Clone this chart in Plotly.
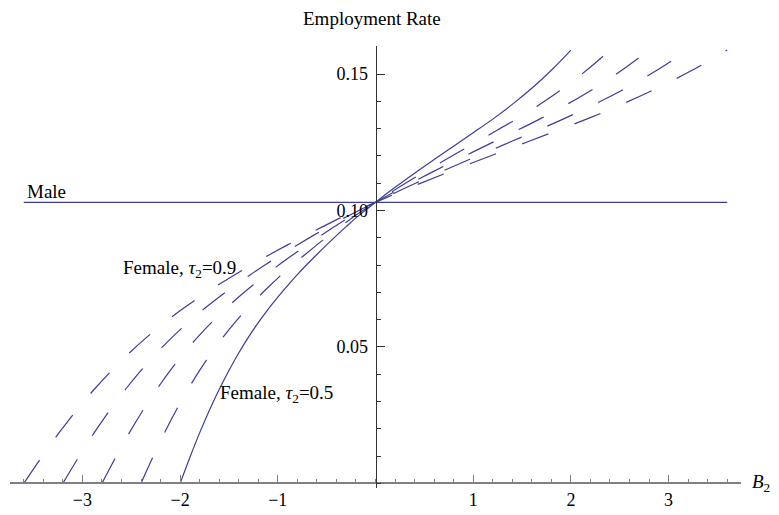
import plotly.graph_objects as go

rate_female = [0.0, 0.0095, 0.0185, 0.0268, 0.0344, 0.0414, 0.0478, 0.0536, 0.0589,
               0.0638, 0.0683, 0.0725, 0.0765, 0.0803, 0.0839, 0.0874, 0.0908, 0.0941,
               0.0973, 0.1002, 0.1030, 0.1085, 0.1137, 0.1187, 0.1236, 0.1285, 0.1335,
               0.1389, 0.1448, 0.1514, 0.1588]

# B2 where each female curve reaches those rates
b2_tau05 = [-2.0, -1.9, -1.8, -1.7, -1.6, -1.5, -1.4, -1.3, -1.2, -1.1, -1.0, -0.9, -0.8,
            -0.7, -0.6, -0.5, -0.4, -0.3, -0.2, -0.1, 0.0, 0.2, 0.4, 0.6, 0.8, 1.0, 1.2,
            1.4, 1.6, 1.8, 2.0]
b2_tau06 = [-2.4, -2.28, -2.16, -2.04, -1.92, -1.8, -1.68, -1.56, -1.44, -1.32, -1.2,
            -1.08, -0.96, -0.84, -0.72, -0.6, -0.48, -0.36, -0.24, -0.12, 0.0, 0.24,
            0.48, 0.72, 0.96, 1.2, 1.44, 1.68, 1.92, 2.16, 2.4]
b2_tau07 = [-2.8, -2.66, -2.52, -2.38, -2.24, -2.1, -1.96, -1.82, -1.68, -1.54, -1.4,
            -1.26, -1.12, -0.98, -0.84, -0.7, -0.56, -0.42, -0.28, -0.14, 0.0, 0.28,
            0.56, 0.84, 1.12, 1.4, 1.68, 1.96, 2.24, 2.52, 2.8]
b2_tau08 = [-3.2, -3.04, -2.88, -2.72, -2.56, -2.4, -2.24, -2.08, -1.92, -1.76, -1.6,
            -1.44, -1.28, -1.12, -0.96, -0.8, -0.64, -0.48, -0.32, -0.16, 0.0, 0.32,
            0.64, 0.96, 1.28, 1.6, 1.92, 2.24, 2.56, 2.88, 3.2]
b2_tau09 = [-3.6, -3.42, -3.24, -3.06, -2.88, -2.7, -2.52, -2.34, -2.16, -1.98, -1.8,
            -1.62, -1.44, -1.26, -1.08, -0.9, -0.72, -0.54, -0.36, -0.18, 0.0, 0.36,
            0.72, 1.08, 1.44, 1.8, 2.16, 2.52, 2.88, 3.24, 3.6]

# Male employment rate is flat
male_b2 = [-3.6, 3.6]
male_rate = [0.103, 0.103]

x_ticks = [-3, -2, -1, 1, 2, 3]
x_tick_labels = ["\u22123", "\u22122", "\u22121", "1", "2", "3"]
y_ticks = [0.05, 0.10, 0.15]
y_tick_labels = ["0.05", "0.10", "0.15"]

LINE = "#3d3d99"
FONT = "Liberation Serif"

fig = go.Figure()

fig.add_trace(go.Scatter(x=male_b2, y=male_rate, mode="lines",
                         line=dict(color=LINE, width=1.2)))

for xs in [b2_tau06, b2_tau07, b2_tau08, b2_tau09]:
    fig.add_trace(go.Scatter(x=xs, y=rate_female, mode="lines",
                             line=dict(color=LINE, width=1.2, dash="28px,28px",
                                       shape="spline")))

fig.add_trace(go.Scatter(x=b2_tau05, y=rate_female, mode="lines",
                         line=dict(color=LINE, width=1.2, shape="spline")))

x_range = [-3.741, 3.741]
y_range = [-0.0017, 0.1603]

# page body adds an 8px offset, so the figure is 8px smaller than the window
fig.update_layout(
    width=771,
    height=507,
    margin=dict(l=2, r=38, t=38, b=27),
    plot_bgcolor="white",
    paper_bgcolor="white",
    showlegend=False,
    hovermode=False,
    font=dict(family=FONT, size=19, color="black"),
    xaxis=dict(
        range=x_range,
        anchor="free",
        position=(0 - y_range[0]) / (y_range[1] - y_range[0]),
        automargin=False,
        showline=True,
        linecolor="#808080",
        linewidth=1.5,
        showgrid=False,
        zeroline=False,
        ticks="inside",
        ticklen=8,
        tickcolor="#808080",
        tickvals=x_ticks,
        ticktext=x_tick_labels,
        tickfont=dict(family=FONT, size=18),
        minor=dict(dtick=0.2, tick0=0, ticks="inside", ticklen=4, tickcolor="#808080"),
    ),
    yaxis=dict(
        range=y_range,
        anchor="free",
        position=(0 - x_range[0]) / (x_range[1] - x_range[0]),
        automargin=False,
        showline=True,
        linecolor="#333333",
        linewidth=1,
        showgrid=False,
        zeroline=False,
        ticks="inside",
        ticklen=8,
        tickcolor="#333333",
        tickvals=y_ticks,
        ticktext=y_tick_labels,
        ticklabelstandoff=4,
        tickfont=dict(family=FONT, size=18),
        minor=dict(dtick=0.01, tick0=0, ticks="inside", ticklen=4, tickcolor="#333333"),
    ),
    annotations=[
        dict(text="Employment Rate", x=0.4952, y=1.0633, xref="paper", yref="paper",
             showarrow=False, xanchor="center", yanchor="middle"),
        dict(text="Male", x=-3.588, y=0.1071, xref="x", yref="y",
             showarrow=False, xanchor="left", yanchor="middle"),
        dict(text="Female, <i>\u03c4</i><sub>2</sub>=0.9", x=-2.608, y=0.0785,
             xref="x", yref="y", showarrow=False, xanchor="left", yanchor="middle"),
        dict(text="Female, <i>\u03c4</i><sub>2</sub>=0.5", x=-1.609, y=0.0327,
             xref="x", yref="y", showarrow=False, xanchor="left", yanchor="middle"),
        dict(text="<i>B</i><sub>2</sub>", x=1.043, y=0.0113, xref="paper", yref="paper",
             showarrow=False, xanchor="right", yanchor="middle"),
    ],
)

fig.write_html("out.html")
